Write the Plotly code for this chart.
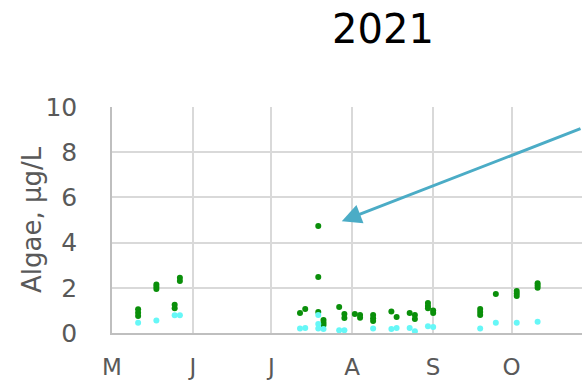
import plotly.graph_objects as go

# Algae concentrations (µg/L), 2021 season
green_dates = (
    ["2021-05-11"] * 3 + ["2021-05-18"] * 3 + ["2021-05-25"] * 2 + ["2021-05-27"] * 2
    + ["2021-07-12", "2021-07-14"] + ["2021-07-19"] * 3 + ["2021-07-21"] * 3
    + ["2021-07-27"] + ["2021-07-29"] * 2 + ["2021-08-02"] + ["2021-08-04"] * 2
    + ["2021-08-09"] * 3 + ["2021-08-16", "2021-08-18", "2021-08-23"] + ["2021-08-25"] * 2
    + ["2021-08-30"] * 3 + ["2021-09-01"] * 2 + ["2021-09-19"] * 3 + ["2021-09-25"]
    + ["2021-10-03"] * 3 + ["2021-10-11"] * 3
)
green_values = [
    0.75, 0.9, 1.05, 1.95, 2.05, 2.15, 1.1, 1.25, 2.3, 2.45,
    0.88, 1.06, 4.73, 2.48, 0.93, 0.57, 0.45, 0.35,
    1.15, 0.84, 0.66, 0.84, 0.8, 0.68,
    0.8, 0.65, 0.53, 0.95, 0.71, 0.88, 0.8, 0.62,
    1.33, 1.2, 1.1, 1.0, 0.88, 1.06, 0.93, 0.8, 1.73,
    1.86, 1.75, 1.64, 2.2, 2.1, 2.0,
]

cyan_dates = [
    "2021-05-11", "2021-05-18", "2021-05-25", "2021-05-27",
    "2021-07-12", "2021-07-14", "2021-07-19", "2021-07-19", "2021-07-19", "2021-07-21",
    "2021-07-27", "2021-07-29", "2021-08-09", "2021-08-16", "2021-08-18",
    "2021-08-23", "2021-08-25", "2021-08-30", "2021-09-01",
    "2021-09-19", "2021-09-25", "2021-10-03", "2021-10-11",
]
cyan_values = [
    0.45, 0.55, 0.78, 0.78,
    0.2, 0.22, 0.8, 0.4, 0.2, 0.18,
    0.12, 0.12, 0.2, 0.18, 0.22,
    0.22, 0.08, 0.3, 0.27,
    0.2, 0.45, 0.45, 0.5,
]

month_ticks = ["2021-05-01", "2021-06-01", "2021-07-01", "2021-08-01", "2021-09-01", "2021-10-01"]
month_labels = ["M", "J", "J", "A", "S", "O"]

grey = "#595959"
font = "DejaVu Sans"
W, H = 582, 383
ML = 112

fig = go.Figure()
fig.add_trace(go.Scatter(
    x=green_dates, y=green_values, mode="markers",
    marker=dict(color="#0a8f0a", size=6), showlegend=False,
))
fig.add_trace(go.Scatter(
    x=cyan_dates, y=cyan_values, mode="markers",
    marker=dict(color="#66f7f7", size=6), showlegend=False,
))

# Arrow pointing at the July peak
fig.add_annotation(
    x="2021-07-28", y=4.95, xref="x", yref="y",
    ax=262, ay=-93, axref="pixel", ayref="pixel",
    text="", showarrow=True, arrowhead=2, arrowsize=1.3,
    arrowwidth=3, arrowcolor="#4bacc6", standoff=0,
)

# Vertical axis title
fig.add_annotation(
    x=-(ML - 32) / (W - ML), y=0.5, xref="paper", yref="paper",
    xanchor="center", yanchor="middle", textangle=-90,
    text="Algae, µg/L", showarrow=False,
    font=dict(family=font, size=26, color=grey),
)

fig.update_layout(
    width=W, height=H,
    margin=dict(l=ML, r=0, t=107, b=50),
    paper_bgcolor="white", plot_bgcolor="white",
    font=dict(family=font, color=grey),
    title=dict(text="2021", x=383 / W, xanchor="center", y=1 - 29 / H, yanchor="middle",
               font=dict(family=font, size=40, color="black")),
    xaxis=dict(
        type="date", range=["2021-05-01", "2021-10-28"],
        tickvals=month_ticks, ticktext=month_labels,
        tickfont=dict(size=23, color=grey), ticklabelstandoff=13,
        showgrid=True, gridcolor="#d9d9d9", gridwidth=1.5,
        showline=True, linecolor="#bfbfbf", linewidth=1.5,
        zeroline=False,
    ),
    yaxis=dict(
        range=[0, 10], tickvals=[0, 2, 4, 6, 8, 10],
        tickfont=dict(size=25, color=grey), ticklabelstandoff=28,
        showgrid=True, gridcolor="#d9d9d9", gridwidth=1.5,
        showline=True, linecolor="#bfbfbf", linewidth=1.5,
        zeroline=False,
    ),
)

fig.write_html("out.html")
